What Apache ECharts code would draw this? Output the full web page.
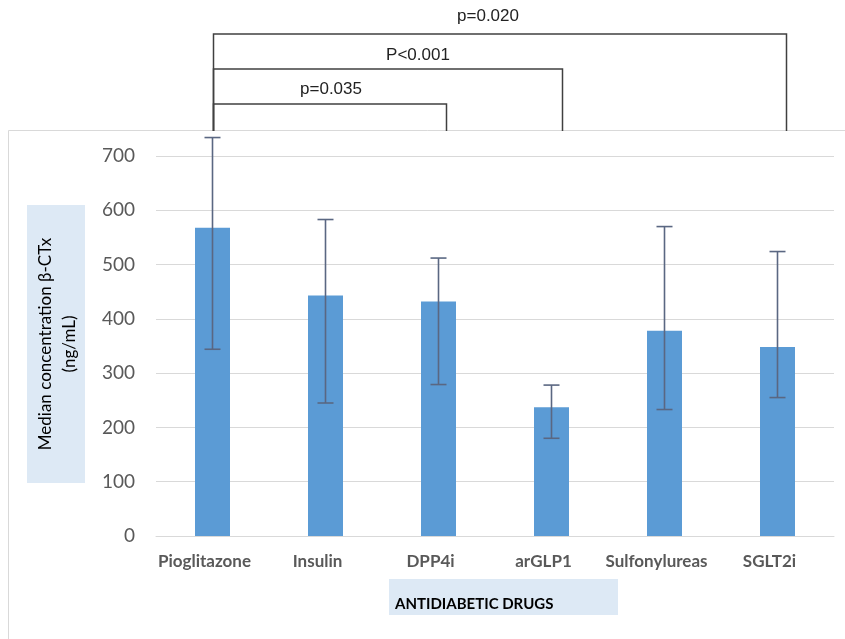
<!DOCTYPE html>
<html>
<head>
<meta charset="utf-8">
<script src="https://cdn.jsdelivr.net/npm/echarts@6/dist/echarts.min.js"></script>
<style>
  html, body { margin: 0; padding: 0; background: #ffffff; }
  #chart { width: 845px; height: 639px; }
</style>
</head>
<body>
<div id="chart"></div>
<script>
const categories = ['Pioglitazone', 'Insulin', 'DPP4i', 'arGLP1', 'Sulfonylureas', 'SGLT2i'];
const medians = [568, 443, 432, 237, 378, 348];
const errLow = [344, 245, 279, 180, 233, 255];
const errHigh = [734, 583, 512, 278, 570, 524];
const yTicks = [0, 100, 200, 300, 400, 500, 600, 700];
const pLabels = ['p=0.035', 'P<0.001', 'p=0.020'];
const pTargets = ['DPP4i', 'arGLP1', 'SGLT2i'];

const chart = echarts.init(document.getElementById('chart'));

const errData = categories.map((c, i) => [i, errLow[i], errHigh[i]]);

const option = {
  animation: false,
  backgroundColor: '#ffffff',
  grid: { left: 156, right: 11, top: 156, bottom: 103, containLabel: false },
  xAxis: {
    type: 'category',
    data: categories,
    axisTick: { show: false },
    axisLine: { show: true, lineStyle: { color: '#d9d9d9', width: 1 } },
    axisLabel: {
      color: '#595959', fontFamily: 'Lato', fontWeight: 'bold', fontSize: 17,
      margin: 17, interval: 0, padding: [0, 16, 0, 0]
    }
  },
  yAxis: {
    type: 'value',
    min: yTicks[0],
    max: yTicks[yTicks.length - 1],
    interval: yTicks[1] - yTicks[0],
    axisLine: { show: false },
    axisTick: { show: false },
    splitLine: { lineStyle: { color: '#d9d9d9', width: 1 } },
    axisLabel: { color: '#595959', fontFamily: 'Lato', fontSize: 19, margin: 21 }
  },
  series: [
    {
      type: 'bar',
      data: medians,
      barWidth: 35,
      itemStyle: { color: '#5b9bd5' },
      z: 2
    },
    {
      type: 'custom',
      clip: false,
      z: 5,
      data: errData,
      renderItem: function (params, api) {
        const x = api.value(0);
        const lo = api.coord([x, api.value(1)]);
        const hi = api.coord([x, api.value(2)]);
        const cap = 8;
        const style = { stroke: '#5a6782', lineWidth: 1.6 };
        return {
          type: 'group',
          children: [
            { type: 'line', shape: { x1: lo[0], y1: lo[1], x2: hi[0], y2: hi[1] }, style: style },
            { type: 'line', shape: { x1: hi[0] - cap, y1: hi[1], x2: hi[0] + cap, y2: hi[1] }, style: style },
            { type: 'line', shape: { x1: lo[0] - cap, y1: lo[1], x2: lo[0] + cap, y2: lo[1] }, style: style }
          ]
        };
      }
    }
  ]
};

chart.setOption(option);

// Annotation layer: frame, axis title boxes and significance brackets
const x0 = chart.convertToPixel({ xAxisIndex: 0 }, categories[0]) + 1;
const rightOffsets = [8, 11, 9];
const levels = [104, 69, 34];
const textX = [331, 418, 488];
const textY = [89, 55, 16];
const bracketBottom = 131;

const graphics = [
  {
    type: 'rect', z: -10, silent: true,
    shape: { x: 8.5, y: 130.5, width: 860, height: 600 },
    style: { fill: 'none', stroke: '#d9d9d9', lineWidth: 1 }
  },
  {
    type: 'rect', z: 1,
    shape: { x: 27, y: 205, width: 58, height: 278 },
    style: { fill: '#dde9f5' }
  },
  {
    type: 'text', z: 2,
    x: 58, y: 344, rotation: Math.PI / 2,
    style: {
      text: 'Median concentration β-CTx\n(ng/mL)',
      fill: '#000000', font: '17px Lato', align: 'center', verticalAlign: 'middle',
      lineHeight: 24
    }
  },
  {
    type: 'rect', z: 1,
    shape: { x: 389, y: 579, width: 229, height: 36 },
    style: { fill: '#dde9f5' }
  },
  {
    type: 'text', z: 2,
    x: 395, y: 604,
    style: {
      text: 'ANTIDIABETIC DRUGS',
      fill: '#000000', font: 'bold 15px Lato', align: 'left', verticalAlign: 'middle'
    }
  }
];

pTargets.forEach((t, i) => {
  const x1 = chart.convertToPixel({ xAxisIndex: 0 }, t) + rightOffsets[i];
  const y = levels[i];
  graphics.push({
    type: 'polyline', z: 3, silent: true,
    shape: { points: [[x0, bracketBottom], [x0, y], [x1, y], [x1, bracketBottom]] },
    style: { stroke: '#404040', lineWidth: 1.5, fill: 'none' }
  });
  graphics.push({
    type: 'text', z: 3,
    x: textX[i], y: textY[i],
    style: {
      text: pLabels[i], fill: '#222222', font: '17px "Liberation Sans"',
      align: 'center', verticalAlign: 'middle'
    }
  });
});

chart.setOption({ graphic: graphics });
</script>
</body>
</html>
